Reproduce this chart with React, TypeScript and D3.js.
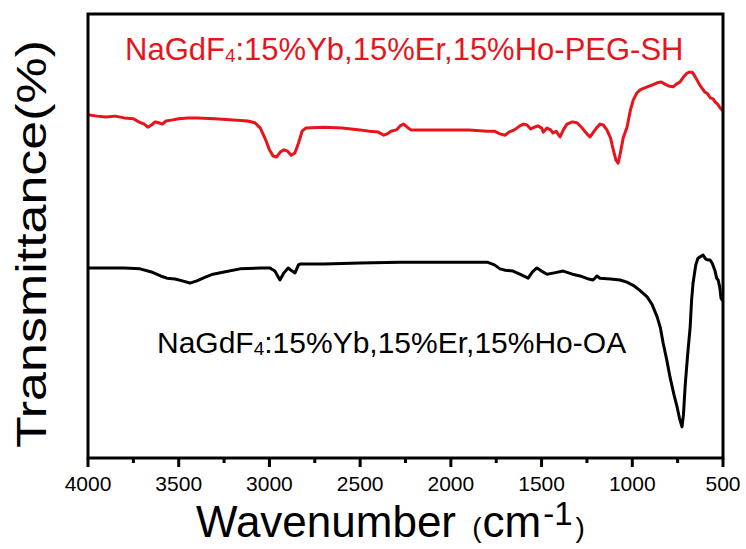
import React from "react"
import * as d3 from "d3"

// wavenumber (cm-1) / transmittance (a.u.)
const pegWave = [4000, 3950, 3900, 3850, 3800, 3750, 3720, 3690, 3670, 3650, 3630, 3610, 3590, 3570, 3540, 3500, 3450, 3400, 3300, 3200, 3120, 3080, 3050, 3020, 3000, 2980, 2960, 2940, 2920, 2900, 2880, 2860, 2840, 2820, 2800, 2700, 2600, 2550, 2500, 2450, 2400, 2370, 2350, 2330, 2300, 2280, 2260, 2240, 2220, 2150, 2000, 1900, 1800, 1760, 1730, 1700, 1680, 1650, 1620, 1600, 1580, 1560, 1540, 1520, 1500, 1490, 1470, 1450, 1437, 1420, 1398, 1380, 1360, 1330, 1305, 1280, 1250, 1233, 1210, 1194, 1178, 1160, 1140, 1120, 1106, 1090, 1078, 1068, 1050, 1029, 1010, 995, 975, 957, 935, 918, 890, 863, 840, 820, 800, 775, 757, 737, 718, 698, 685, 670, 655, 643, 625, 600, 588, 570, 555, 544, 530, 515, 505, 500]
const pegT = [77.3, 77.0, 76.8, 77.0, 76.6, 76.4, 75.7, 75.2, 74.5, 75.0, 75.7, 75.5, 75.2, 75.9, 76.1, 76.4, 76.6, 76.6, 76.4, 76.1, 75.9, 75.5, 74.3, 71.6, 69.4, 68.0, 67.8, 68.9, 69.4, 69.1, 68.2, 68.7, 70.9, 73.6, 74.3, 74.5, 74.3, 74.1, 73.9, 73.6, 73.4, 72.7, 73.0, 73.6, 73.9, 74.8, 75.2, 74.5, 73.9, 73.9, 73.9, 73.9, 73.6, 73.6, 73.0, 72.7, 73.4, 73.9, 74.8, 75.2, 75.0, 74.1, 74.5, 74.8, 74.3, 73.4, 74.3, 73.9, 73.2, 73.6, 72.3, 73.9, 75.2, 75.7, 75.5, 74.5, 73.0, 72.3, 73.6, 74.5, 75.2, 75.0, 73.9, 72.1, 69.6, 67.1, 66.4, 68.2, 72.1, 74.5, 78.4, 80.6, 82.2, 82.9, 83.3, 83.6, 84.0, 84.5, 84.7, 84.2, 83.8, 83.6, 84.2, 84.7, 85.8, 86.7, 86.9, 86.9, 86.0, 85.1, 83.8, 82.4, 82.2, 81.1, 80.9, 80.2, 79.7, 78.8, 78.4, 78.2]

const oaWave = [4000, 3900, 3800, 3713, 3650, 3600, 3565, 3520, 3480, 3438, 3400, 3350, 3311, 3250, 3162, 3050, 2997, 2970, 2942, 2920, 2897, 2875, 2859, 2840, 2831, 2700, 2500, 2280, 2000, 1800, 1760, 1729, 1700, 1657, 1620, 1574, 1550, 1526, 1500, 1470, 1430, 1381, 1330, 1288, 1240, 1216, 1195, 1178, 1120, 1067, 1030, 995, 960, 918, 890, 863, 845, 830, 810, 792, 770, 753, 740, 726, 718, 709, 695, 681, 673, 665, 650, 638, 626, 610, 595, 583, 571, 560, 545, 535, 527, 518, 511, 505, 500]
const oaT = [42.8, 42.8, 42.8, 42.6, 41.9, 41.0, 40.5, 40.3, 39.9, 39.4, 39.9, 40.8, 41.4, 41.9, 42.6, 42.8, 42.8, 42.1, 40.1, 41.7, 42.8, 42.1, 41.7, 43.5, 43.7, 43.7, 43.9, 44.1, 44.1, 44.1, 43.5, 42.6, 42.3, 42.1, 41.4, 40.5, 41.9, 42.8, 42.1, 41.4, 41.7, 42.1, 41.4, 41.0, 40.3, 40.1, 41.0, 40.5, 40.3, 40.1, 39.6, 38.9, 37.8, 36.3, 34.5, 31.8, 29.3, 25.9, 22.1, 18.2, 14.2, 11.5, 9.0, 7.0, 9.7, 16.0, 23.2, 29.5, 35.6, 39.4, 43.5, 45.0, 45.3, 45.7, 44.8, 44.6, 44.6, 43.9, 42.3, 40.5, 40.1, 38.5, 36.0, 35.6, 35.6]

const xTicks = [4000, 3500, 3000, 2500, 2000, 1500, 1000, 500]
const xMinor = [3750, 3250, 2750, 2250, 1750, 1250, 750]

const W = 746
const H = 549
const left = 88
const right = 723
const top = 14
const bottom = 458
const red = "#e8141b"
const font = "'Liberation Sans', Arial, sans-serif"

export default function App() {
    const x = d3.scaleLinear().domain([4000, 500]).range([left, right])
    const y = d3.scaleLinear().domain([0, 100]).range([bottom, top])

    const line = d3.line<[number, number]>()
        .x(d => x(d[0]))
        .y(d => y(d[1]))

    const peg = line(pegWave.map((w, i) => [w, pegT[i]] as [number, number])) || ""
    const oa = line(oaWave.map((w, i) => [w, oaT[i]] as [number, number])) || ""

    return (
        <svg width={W} height={H} style={{ position: "absolute", left: 0, top: 0, background: "#fff" }} fontFamily={font}>
            <path d={peg} fill="none" stroke={red} strokeWidth={3} strokeLinejoin="round" />
            <path d={oa} fill="none" stroke="#000" strokeWidth={3} strokeLinejoin="round" />

            <rect x={left} y={top} width={right - left} height={bottom - top} fill="none" stroke="#000" strokeWidth={3} />

            {xTicks.map(t => (
                <g key={t}>
                    <line x1={x(t)} x2={x(t)} y1={bottom} y2={bottom + 9} stroke="#000" strokeWidth={3} />
                    <text x={x(t)} y={491} fontSize={21} textAnchor="middle">{t}</text>
                </g>
            ))}
            {xMinor.map(t => (
                <line key={t} x1={x(t)} x2={x(t)} y1={bottom} y2={bottom + 5} stroke="#000" strokeWidth={3} />
            ))}

            <text x={125} y={60} fontSize={31} fill={red}>
                NaGdF<tspan fontSize={19} dy={2}>4</tspan><tspan dy={-2}>:15%Yb,15%Er,15%Ho-PEG-SH</tspan>
            </text>
            <text x={157} y={353} fontSize={30} fill="#000">
                NaGdF<tspan fontSize={19} dy={2}>4</tspan><tspan dy={-2}>:15%Yb,15%Er,15%Ho-OA</tspan>
            </text>

            <text x={196} y={537} fontSize={44}>
                Wavenumber <tspan fontSize={28} dx={4}>(</tspan><tspan dx={1}>cm</tspan><tspan fontSize={33} dy={-12} dx={2}>-1</tspan><tspan fontSize={28} dy={12} dx={3}>)</tspan>
            </text>

            <text transform="translate(46,244) rotate(-90)" fontSize={42} textAnchor="middle"
                textLength={408} lengthAdjust="spacingAndGlyphs">Transmittance(%)</text>
        </svg>
    )
}
